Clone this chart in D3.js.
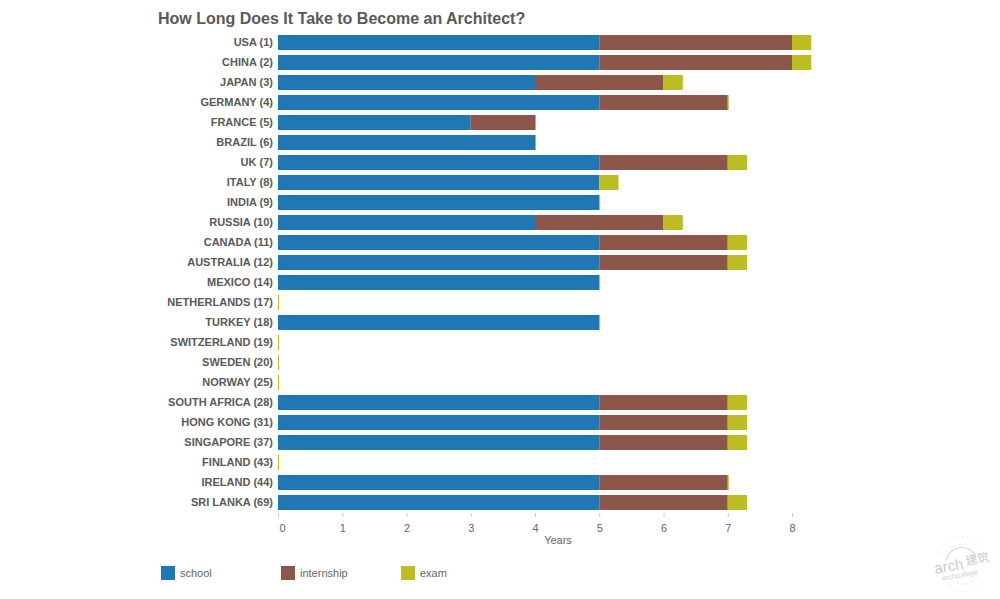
<!DOCTYPE html>
<html>
<head>
<meta charset="utf-8">
<script src="https://cdn.jsdelivr.net/npm/d3@7"></script>
<style>
  html, body { margin: 0; padding: 0; background: #fff; overflow: hidden; }
  text { font-family: "Liberation Sans", Arial, sans-serif; }
</style>
</head>
<body>
<div id="chart"></div>
<script>
// Chart values
const countries = ['USA (1)', 'CHINA (2)', 'JAPAN (3)', 'GERMANY (4)', 'FRANCE (5)', 'BRAZIL (6)', 'UK (7)', 'ITALY (8)',
  'INDIA (9)', 'RUSSIA (10)', 'CANADA (11)', 'AUSTRALIA (12)', 'MEXICO (14)', 'NETHERLANDS (17)', 'TURKEY (18)',
  'SWITZERLAND (19)', 'SWEDEN (20)', 'NORWAY (25)', 'SOUTH AFRICA (28)', 'HONG KONG (31)', 'SINGAPORE (37)',
  'FINLAND (43)', 'IRELAND (44)', 'SRI LANKA (69)'];
const school = [5, 5, 4, 5, 3, 4, 5, 5, 5, 4, 5, 5, 5, 0, 5, 0, 0, 0, 5, 5, 5, 0, 5, 5];
const internship = [3, 3, 2, 2, 1, 0, 2, 0, 0, 2, 2, 2, 0, 0, 0, 0, 0, 0, 2, 2, 2, 0, 2, 2];
const exam = [0.3, 0.3, 0.3, 0, 0, 0, 0.3, 0.3, 0, 0.3, 0.3, 0.3, 0, 0, 0, 0, 0, 0, 0.3, 0.3, 0.3, 0, 0, 0.3];
const seriesNames = ['school', 'internship', 'exam'];
const seriesColors = ['#1f77b4', '#8c564b', '#bcbd22'];
const xTicks = [0, 1, 2, 3, 4, 5, 6, 7, 8];

const width = 1000;
const height = 599;
const textColor = '#595959';

const svg = d3.select('#chart').append('svg')
  .attr('width', width)
  .attr('height', height);

const x = d3.scaleLinear().domain([0, 8]).range([278, 792]);
const y = d3.scaleBand().domain(countries).range([32.5, 512.5]).paddingInner(0.25).paddingOuter(0.125);
const color = d3.scaleOrdinal().domain(seriesNames).range(seriesColors);

// Title
svg.append('text')
  .attr('x', 158)
  .attr('y', 24)
  .style('font-size', '16px')
  .style('font-weight', 'bold')
  .style('fill', textColor)
  .text('How Long Does It Take to Become an Architect?');

// Stacked bars
const rows = countries.map((c, i) => ({ country: c, school: school[i], internship: internship[i], exam: exam[i] }));
const stacked = d3.stack().keys(seriesNames)(rows);

svg.selectAll('.series')
  .data(stacked)
  .enter().append('g')
  .attr('class', 'series')
  .attr('fill', d => color(d.key))
  .selectAll('rect')
  .data(d => d.map(v => ({ key: d.key, v })))
  .enter().append('rect')
  .attr('x', d => x(d.v[0]))
  .attr('y', d => y(d.v.data.country))
  .attr('height', y.bandwidth())
  // empty exam segments still show as a hairline in the original
  .attr('width', d => d.key === 'exam' ? Math.max(1, x(d.v[1]) - x(d.v[0])) : x(d.v[1]) - x(d.v[0]));

// Country labels
svg.append('g')
  .call(d3.axisLeft(y).tickSize(0).tickPadding(0))
  .attr('transform', 'translate(273,0)')
  .call(g => g.select('.domain').remove())
  .selectAll('text')
  .style('font-size', '11px')
  .style('font-weight', 'bold')
  .style('font-family', '"Liberation Sans", Arial, sans-serif')
  .style('fill', textColor);

// X axis
const xAxis = svg.append('g')
  .attr('transform', 'translate(0,513)')
  .call(d3.axisBottom(x).tickValues(xTicks).tickFormat(d3.format('d')).tickSize(4).tickPadding(7));
xAxis.select('.domain').remove();
xAxis.selectAll('line').attr('stroke', '#ccc');
xAxis.selectAll('text')
  .style('font-size', '11px')
  .style('font-family', '"Liberation Sans", Arial, sans-serif')
  .style('fill', '#666');
// first label is nudged right of its tick
xAxis.selectAll('text').filter(d => d === 0).attr('dx', 4);

svg.append('text')
  .attr('x', 558)
  .attr('y', 544)
  .attr('text-anchor', 'middle')
  .style('font-size', '11px')
  .style('fill', '#666')
  .text('Years');

// Legend
const legend = svg.selectAll('.legend')
  .data(seriesNames)
  .enter().append('g')
  .attr('class', 'legend')
  .attr('transform', (d, i) => `translate(${161 + i * 120},566)`);

legend.append('rect')
  .attr('width', 14)
  .attr('height', 14)
  .attr('fill', d => color(d));

legend.append('text')
  .attr('x', 19)
  .attr('y', 11)
  .style('font-size', '11px')
  .style('fill', '#666')
  .text(d => d);

// Watermark stamp, bottom right corner
const stamp = svg.append('g')
  .attr('transform', 'translate(962,564) rotate(-10)')
  .attr('opacity', 0.6);
// sun rays top and bottom
[[-0.95, 0.95], [Math.PI - 0.7, Math.PI + 0.7]].forEach(([a0, a1]) => {
  stamp.append('path')
    .attr('d', d3.arc()({ innerRadius: 20, outerRadius: 27, startAngle: a0, endAngle: a1 }))
    .attr('fill', 'none')
    .attr('stroke', '#bbb')
    .attr('stroke-width', 0.6)
    .attr('stroke-dasharray', '1.5 3.5');
});
stamp.append('path')
  .attr('d', d3.arc()({ innerRadius: 16, outerRadius: 17, startAngle: -1.2, endAngle: 1.2 }))
  .attr('fill', '#bbb');
stamp.append('text')
  .attr('x', -28)
  .attr('y', 5)
  .style('font-size', '15px')
  .style('fill', '#aaa')
  .text('arch');
stamp.append('text')
  .attr('x', 4)
  .attr('y', 2)
  .style('font-size', '12px')
  .style('font-family', '"Noto Sans CJK SC"')
  .style('fill', '#aaa')
  .text('建筑');
stamp.append('text')
  .attr('x', -22)
  .attr('y', 13)
  .style('font-size', '7px')
  .style('font-style', 'italic')
  .style('fill', '#aaa')
  .text('archcollege');
</script>
</body>
</html>
